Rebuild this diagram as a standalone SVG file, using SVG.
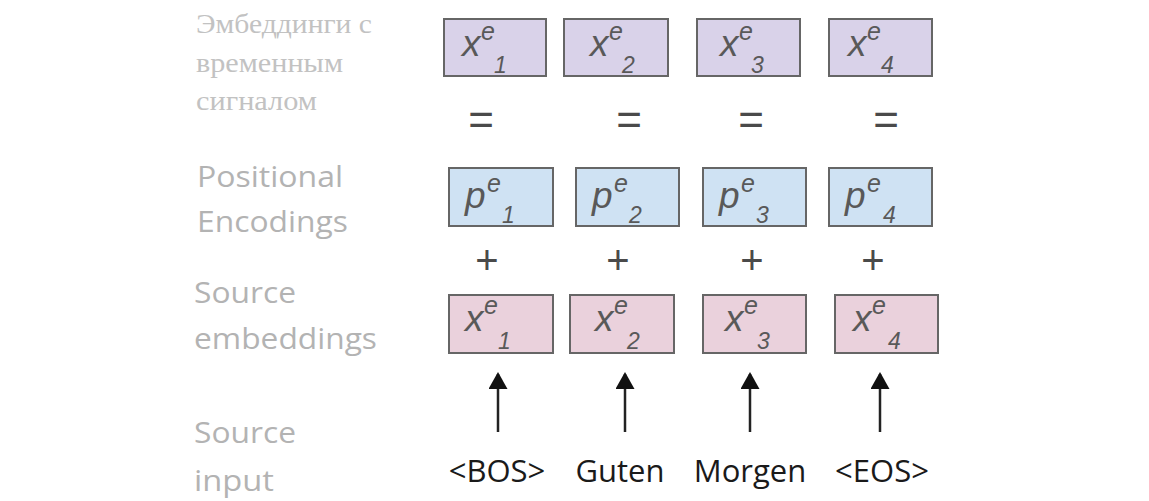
<svg xmlns="http://www.w3.org/2000/svg" width="1149" height="501" viewBox="0 0 1149 501">
<defs>
<style>
.bg{fill:#ffffff}
.box{stroke:#666666;stroke-width:2}
.pur{fill:#d9d2e9}
.blu{fill:#cfe2f3}
.pnk{fill:#ead1dc}
.v{font-family:"Liberation Sans",Arial,sans-serif;font-style:italic;fill:#595959}
.vb{font-size:37px}
.vs{font-size:25px}
.vd{font-size:23px}
.lab{font-family:"Open Sans",sans-serif;font-size:29px;fill:#b3b3b3}
.ru{font-family:"Liberation Serif","Times New Roman",serif;font-size:27px;fill:#c2c2c2}
.op{font-family:"Liberation Sans",Arial,sans-serif;fill:#4a4a4a;text-anchor:middle}
.tok{font-family:"Open Sans",sans-serif;font-size:31px;fill:#1a1a1a;text-anchor:middle}
.arr{stroke:#222222;stroke-width:2.5;fill:none}
</style>
<marker id="ah" markerWidth="17" markerHeight="19" refX="15" refY="9.5" orient="auto" markerUnits="userSpaceOnUse" viewBox="0 0 17 19">
<path d="M0,0 L17,9.5 L0,19 Z" fill="#111111"/>
</marker>
</defs>
<rect class="bg" x="0" y="0" width="1149" height="501"/>

<g id="labels">
<text class="ru" x="196" y="33" textLength="176" lengthAdjust="spacingAndGlyphs">Эмбеддинги с</text>
<text class="ru" x="196" y="72" textLength="147" lengthAdjust="spacingAndGlyphs">временным</text>
<text class="ru" x="196" y="110" textLength="121" lengthAdjust="spacingAndGlyphs">сигналом</text>
<text class="lab" x="197" y="187" textLength="146" lengthAdjust="spacingAndGlyphs">Positional</text>
<text class="lab" x="197" y="232" textLength="151" lengthAdjust="spacingAndGlyphs">Encodings</text>
<text class="lab" x="194" y="303" textLength="102" lengthAdjust="spacingAndGlyphs">Source</text>
<text class="lab" x="194" y="349" textLength="183" lengthAdjust="spacingAndGlyphs">embeddings</text>
<text class="lab" x="194" y="443" textLength="102" lengthAdjust="spacingAndGlyphs">Source</text>
<text class="lab" x="194" y="491" textLength="80" lengthAdjust="spacingAndGlyphs">input</text>
</g>

<g id="row-top">
<g id="xt1"><rect class="box pur" x="444" y="19" width="102" height="57"/>
<text class="v vb" x="462" y="56">x</text><text class="v vs" x="481" y="40">e</text><text class="v vd" x="494" y="73">1</text></g>
<g id="xt2"><rect class="box pur" x="564" y="19" width="104" height="57"/>
<text class="v vb" x="590" y="56">x</text><text class="v vs" x="609" y="40">e</text><text class="v vd" x="622" y="73">2</text></g>
<g id="xt3"><rect class="box pur" x="697" y="19" width="103" height="57"/>
<text class="v vb" x="720" y="56">x</text><text class="v vs" x="739" y="40">e</text><text class="v vd" x="751" y="73">3</text></g>
<g id="xt4"><rect class="box pur" x="829" y="19" width="103" height="57"/>
<text class="v vb" x="848" y="56">x</text><text class="v vs" x="867" y="40">e</text><text class="v vd" x="881" y="73">4</text></g>
</g>

<g id="equals">
<text class="op" font-size="44" x="481" y="135">=</text>
<text class="op" font-size="44" x="629" y="135">=</text>
<text class="op" font-size="44" x="751" y="135">=</text>
<text class="op" font-size="44" x="886" y="135">=</text>
</g>

<g id="row-mid">
<g id="p1"><rect class="box blu" x="449" y="168" width="104" height="58"/>
<text class="v vb" x="465" y="208">p</text><text class="v vs" x="487" y="192">e</text><text class="v vd" x="502" y="223">1</text></g>
<g id="p2"><rect class="box blu" x="576" y="168" width="103" height="58"/>
<text class="v vb" x="592" y="208">p</text><text class="v vs" x="614" y="192">e</text><text class="v vd" x="629" y="223">2</text></g>
<g id="p3"><rect class="box blu" x="703" y="168" width="103" height="58"/>
<text class="v vb" x="719" y="208">p</text><text class="v vs" x="741" y="192">e</text><text class="v vd" x="756" y="223">3</text></g>
<g id="p4"><rect class="box blu" x="829" y="168" width="103" height="58"/>
<text class="v vb" x="845" y="208">p</text><text class="v vs" x="867" y="192">e</text><text class="v vd" x="883" y="223">4</text></g>
</g>

<g id="plus">
<text class="op" font-size="40" x="487" y="274">+</text>
<text class="op" font-size="40" x="618" y="274">+</text>
<text class="op" font-size="40" x="752" y="274">+</text>
<text class="op" font-size="40" x="873" y="274">+</text>
</g>

<g id="row-bot">
<g id="xs1"><rect class="box pnk" x="449" y="295" width="104" height="58"/>
<text class="v vb" x="465" y="331">x</text><text class="v vs" x="484" y="314">e</text><text class="v vd" x="498" y="349">1</text></g>
<g id="xs2"><rect class="box pnk" x="570" y="295" width="104" height="58"/>
<text class="v vb" x="595" y="331">x</text><text class="v vs" x="614" y="314">e</text><text class="v vd" x="627" y="349">2</text></g>
<g id="xs3"><rect class="box pnk" x="703" y="295" width="103" height="58"/>
<text class="v vb" x="725" y="331">x</text><text class="v vs" x="744" y="314">e</text><text class="v vd" x="757" y="349">3</text></g>
<g id="xs4"><rect class="box pnk" x="835" y="295" width="103" height="58"/>
<text class="v vb" x="853" y="331">x</text><text class="v vs" x="872" y="314">e</text><text class="v vd" x="888" y="349">4</text></g>
</g>

<g id="connectors">
<line class="arr" x1="498" y1="432" x2="498" y2="374" marker-end="url(#ah)"/>
<line class="arr" x1="625" y1="432" x2="625" y2="374" marker-end="url(#ah)"/>
<line class="arr" x1="750" y1="432" x2="750" y2="374" marker-end="url(#ah)"/>
<line class="arr" x1="880" y1="432" x2="880" y2="374" marker-end="url(#ah)"/>
</g>

<g id="tokens">
<text class="tok" x="497" y="482">&lt;BOS&gt;</text>
<text class="tok" x="620" y="482">Guten</text>
<text class="tok" x="750" y="482">Morgen</text>
<text class="tok" x="882" y="482">&lt;EOS&gt;</text>
</g>
</svg>
